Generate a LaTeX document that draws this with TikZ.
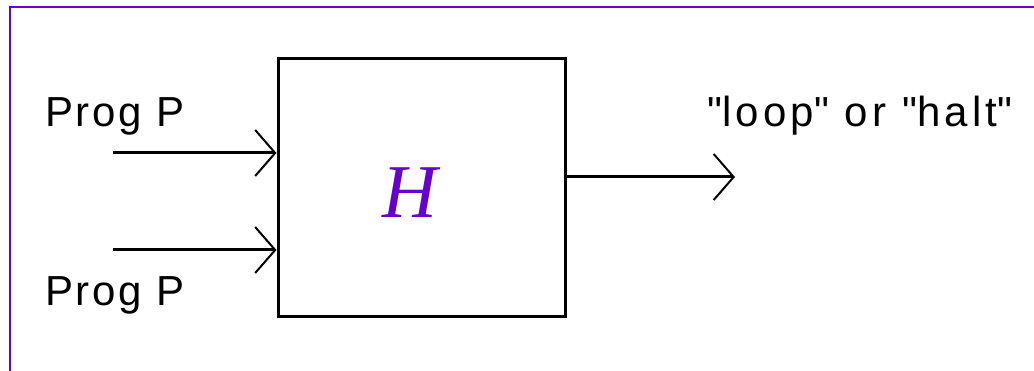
\documentclass[tikz,border=0pt]{standalone}
\usepackage{fontspec}
\setmainfont{Liberation Sans}
\newfontfamily\hserif{Liberation Serif}
\usetikzlibrary{arrows.meta}
\definecolor{fpurple}{RGB}{102,0,204}
\tikzset{
  lbl/.style={font=\fontsize{42}{48}\selectfont\addfontfeature{LetterSpace=6.5}, anchor=base west, inner sep=0pt},
  conn/.style={line width=3pt, -{Straight Barb[length=20pt,width=46pt,line width=2pt]}},
  boxst/.style={draw, line width=3pt, minimum width=287pt, minimum height=258pt, inner sep=0pt}
}
\begin{document}
\begin{tikzpicture}[x=1pt,y=-1pt]
\useasboundingbox (0,0) rectangle (1034,371);
\fill[white] (0,0) rectangle (1034,371);
\draw[fpurple, line width=2.5pt] (10,371) -- (10,7) -- (1034,7);
\node[boxst] (H) at (421.5,188) {};
\node[text=fpurple, font=\hserif\itshape\fontsize{76}{80}\selectfont] (Hl) at (410,193) {H};
\node[lbl] (p1) at (45,127) {Prog P};
\node[lbl] (p2) at (45,306) {Prog P};
\node[lbl, font=\fontsize{42}{48}\selectfont\addfontfeature{LetterSpace=10}] (out) at (707,127) {\textquotedbl loop\textquotedbl{} or \textquotedbl halt\textquotedbl};
\coordinate (s1) at (113,153);
\coordinate (s2) at (113,250);
\coordinate (e3) at (735,177);
\draw[conn] (s1) -- (s1 -| H.west);
\draw[conn] (s2) -- (s2 -| H.west);
\draw[conn] (H.east |- e3) -- (e3);
\end{tikzpicture}
\end{document}
